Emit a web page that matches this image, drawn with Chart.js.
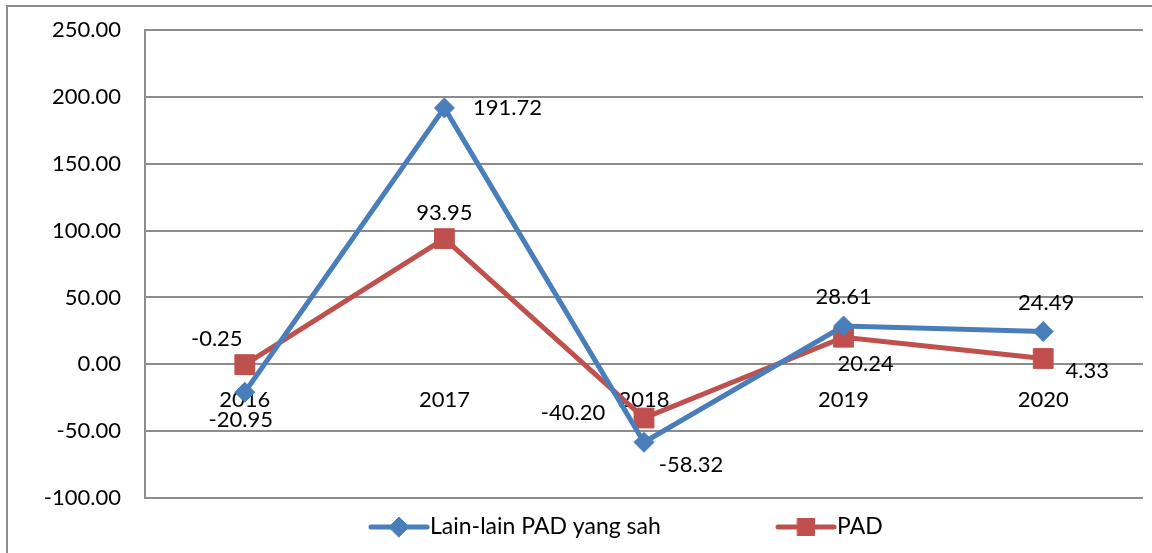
<!DOCTYPE html>
<html>
<head>
<meta charset="utf-8">
<script src="https://cdn.jsdelivr.net/npm/chart.js@4.4.1/dist/chart.umd.min.js"></script>
<style>
  html, body { margin: 0; padding: 0; background: #fff; }
  #wrap { width: 1152px; height: 553px; }
</style>
</head>
<body>
<div id="wrap"><canvas id="chart" width="1152" height="553"></canvas></div>
<script>
// data
const years = ["2016", "2017", "2018", "2019", "2020"];
const lainLainPad = [-20.95, 191.72, -58.32, 28.61, 24.49];
const padTotal = [-0.25, 93.95, -40.20, 20.24, 4.33];
const seriesNames = ["Lain-lain PAD yang sah", "PAD"];
const yMin = -100;
const yMax = 250;
const yStep = 50;

// where each value label sits relative to its point (dx, dy)
const labelShift = [
  [[-4, 28], [63, 0], [47, 23], [0, -29], [3, -29]],
  [[-28, -26], [0, -26], [-71, -5], [22, 27], [44, 12]],
];

const FONT = "Lato";
const FSIZE = 22;
const gridColor = "#8c8c8c";

const frame = {
  id: "frame",
  beforeDraw(chart) {
    const c = chart.ctx;
    c.save();
    c.strokeStyle = "#8c8c8c";
    c.lineWidth = 2;
    c.beginPath();
    c.moveTo(7, 600);
    c.lineTo(7, 6);
    c.lineTo(1200, 6);
    c.stroke();
    c.restore();
  },
};

const valueLabels = {
  id: "valueLabels",
  afterDatasetsDraw(chart) {
    const c = chart.ctx;
    c.save();
    c.font = FSIZE + "px " + FONT;
    c.fillStyle = "#000";
    c.textAlign = "center";
    c.textBaseline = "middle";
    chart.data.datasets.forEach((ds, di) => {
      chart.getDatasetMeta(di).data.forEach((pt, i) => {
        const s = labelShift[di][i];
        c.fillText(ds.data[i].toFixed(2), pt.x + s[0], pt.y + s[1]);
      });
    });
    c.restore();
  },
};

// legend: line sample with the marker in the middle, like Excel draws it
const legendBox = {
  id: "legendBox",
  afterDraw(chart) {
    const c = chart.ctx;
    const y = 527;
    const starts = [371, 778];
    const markR = [10, 12];
    c.save();
    c.font = "23px " + FONT;
    c.textBaseline = "middle";
    c.textAlign = "left";
    chart.data.datasets.forEach((ds, di) => {
      const x0 = starts[di];
      c.strokeStyle = ds.borderColor;
      c.lineWidth = ds.borderWidth;
      c.lineCap = "round";
      c.beginPath();
      c.moveTo(x0, y);
      c.lineTo(x0 + 56, y);
      c.stroke();
      c.fillStyle = ds.pointBackgroundColor;
      c.strokeStyle = ds.pointBorderColor;
      c.lineWidth = 1;
      Chart.helpers.drawPoint(c, {
        pointStyle: ds.pointStyle,
        radius: markR[di],
        borderWidth: 1,
      }, x0 + 28, y);
      c.fillStyle = "#000";
      c.fillText(ds.label, x0 + 59, y);
    });
    c.restore();
  },
};

new Chart(document.getElementById("chart"), {
  type: "line",
  data: {
    labels: years,
    datasets: [
      {
        label: seriesNames[0],
        data: lainLainPad,
        borderColor: "#4a7ebb",
        borderWidth: 5,
        pointStyle: "rectRot",
        pointRadius: 10,
        pointBackgroundColor: "#4a7ebb",
        pointBorderColor: "#4a7ebb",
        pointBorderWidth: 1,
        tension: 0,
      },
      {
        label: seriesNames[1],
        data: padTotal,
        borderColor: "#c0504d",
        borderWidth: 5,
        pointStyle: "rect",
        pointRadius: 14,
        pointBackgroundColor: "#c0504d",
        pointBorderColor: "#c0504d",
        pointBorderWidth: 1,
        tension: 0,
      },
    ],
  },
  options: {
    responsive: false,
    devicePixelRatio: 1,
    animation: false,
    layout: {
      autoPadding: false,
      padding: { top: 30, right: 9, bottom: 55, left: 1 },
    },
    plugins: {
      legend: { display: false },
      tooltip: { enabled: false },
    },
    scales: {
      x: {
        type: "category",
        offset: true,
        position: { y: 0 },
        afterFit: (s) => {
          s.height = 0;
          s.paddingLeft = 0;
          s.paddingRight = 0;
        },
        grid: { display: false, drawTicks: false },
        border: { display: false },
        ticks: {
          color: "#000",
          font: { family: FONT, size: FSIZE },
          padding: 22,
          maxRotation: 0,
        },
      },
      y: {
        min: yMin,
        max: yMax,
        afterFit: (s) => {
          s.width = 144;
          s.paddingTop = 0;
          s.paddingBottom = 0;
        },
        grid: { color: gridColor, lineWidth: 2, drawTicks: false },
        border: { display: true, color: gridColor, width: 2 },
        ticks: {
          stepSize: yStep,
          color: "#000",
          font: { family: FONT, size: FSIZE },
          padding: 24,
          callback: (v) => Number(v).toFixed(2),
        },
      },
    },
  },
  plugins: [frame, valueLabels, legendBox],
});
</script>
</body>
</html>
